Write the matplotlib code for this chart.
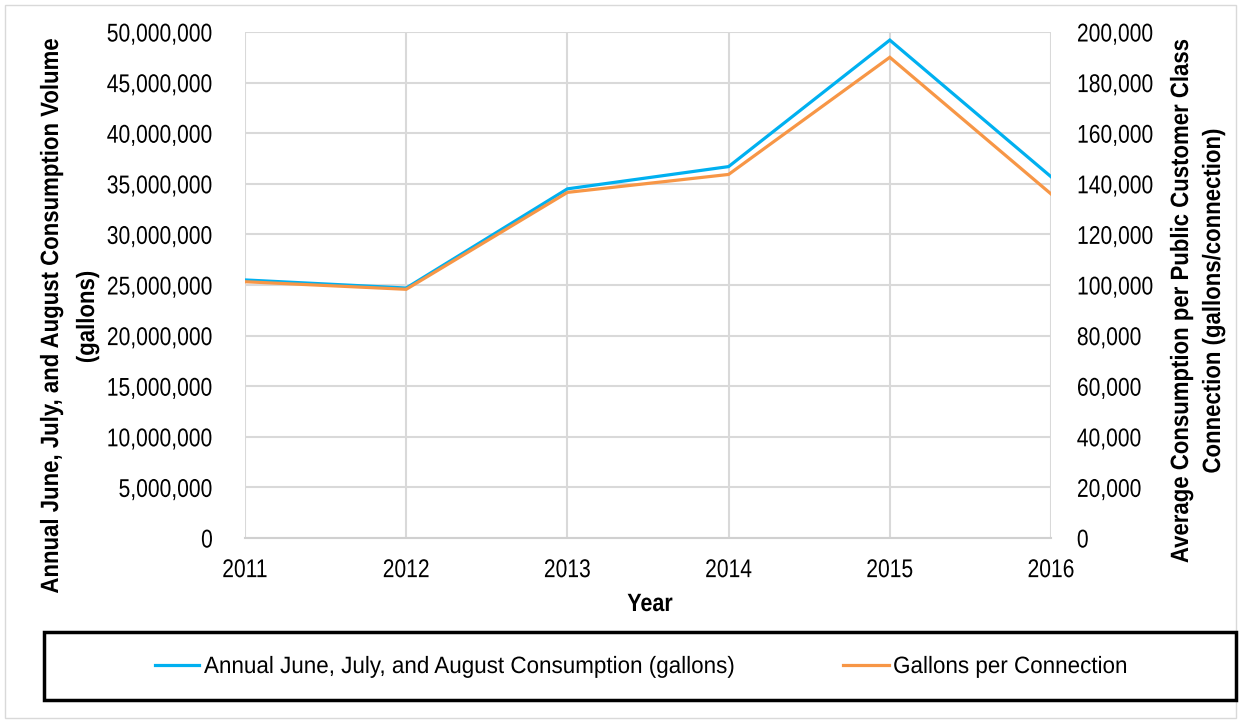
import matplotlib
matplotlib.use("Agg")
import matplotlib.pyplot as plt
from matplotlib.ticker import FuncFormatter, MultipleLocator
from matplotlib.patches import Rectangle
from matplotlib.lines import Line2D
from matplotlib.patheffects import AbstractPathEffect
from matplotlib.transforms import Affine2D

years = [2011, 2012, 2013, 2014, 2015, 2016]
consumption = [25_500_000, 24_700_000, 34_500_000, 36_700_000, 49_200_000, 35_700_000]
per_connection = [101_300, 98_300, 136_600, 143_700, 190_000, 136_000]
series_names = ['Annual June, July, and August Consumption (gallons)', 'Gallons per Connection']

plt.rcParams['font.family'] = ['Liberation Sans', 'DejaVu Sans']

BLUE = '#00B0F0'
ORANGE = '#F79646'
GRID = '#D9D9D9'
W, H = 1241, 723


class Squeeze(AbstractPathEffect):
    """Condense text along one direction (emulates a narrow font)."""
    def __init__(self, s, axis='x', anchor='center'):
        super().__init__()
        self.s, self.axis, self.anchor = s, axis, anchor

    def draw_path(self, renderer, gc, tpath, affine, rgbFace=None):
        ext = tpath.transformed(affine).get_extents()
        if self.axis == 'x':
            ref = {'left': ext.x0, 'right': ext.x1, 'center': (ext.x0 + ext.x1) / 2}[self.anchor]
            t = affine + Affine2D().translate(-ref, 0).scale(self.s, 1).translate(ref, 0)
        else:
            ref = (ext.y0 + ext.y1) / 2
            t = affine + Affine2D().translate(0, -ref).scale(1, self.s).translate(0, ref)
        renderer.draw_path(gc, tpath, t, rgbFace)


fig = plt.figure(figsize=(W / 100, H / 100), dpi=100)
ax = fig.add_axes([245 / W, 1 - 538 / H, (1051 - 245) / W, (538 - 32) / H])
ax2 = ax.twinx()

l1, = ax.plot(years, consumption, color=BLUE, lw=2.3, solid_joinstyle='miter', zorder=3)
l2, = ax2.plot(years, per_connection, color=ORANGE, lw=2.3, solid_joinstyle='miter', zorder=3)

ax.set_xlim(2011, 2016)
ax.set_ylim(0, 50_000_000)
ax2.set_ylim(0, 200_000)
ax.yaxis.set_major_locator(MultipleLocator(5_000_000))
ax2.yaxis.set_major_locator(MultipleLocator(20_000))
ax.set_xticks(years)
fmt = FuncFormatter(lambda v, p: f"{int(v):,}")
ax.yaxis.set_major_formatter(fmt)
ax2.yaxis.set_major_formatter(fmt)

ax.grid(True, color=GRID, lw=1.5)
ax.set_axisbelow(True)
for a in (ax, ax2):
    for s in a.spines.values():
        s.set_visible(False)
    a.tick_params(length=0)
ax.spines['bottom'].set_visible(True)
ax.spines['bottom'].set_color('#D0D0D0')
ax.spines['bottom'].set_linewidth(1.5)

TICK_FS = 18.5
ax.tick_params(axis='y', labelsize=TICK_FS, pad=23)
ax.tick_params(axis='x', labelsize=TICK_FS, pad=14.5)
ax2.tick_params(axis='y', labelsize=TICK_FS, pad=18.5)
for lbl in ax.get_yticklabels():
    lbl.set_path_effects([Squeeze(0.82, 'x', 'right')])
for lbl in ax.get_xticklabels():
    lbl.set_path_effects([Squeeze(0.82, 'x', 'center')])
for lbl in ax2.get_yticklabels():
    lbl.set_path_effects([Squeeze(0.82, 'x', 'left')])

# axis titles
fig.text(650 / W, 1 - 611 / H, 'Year', fontsize=18, fontweight='bold',
         ha='center', va='baseline', path_effects=[Squeeze(0.86, 'x', 'center')])
lab_fx = dict(fontsize=18, fontweight='bold', rotation=90, ha='center', va='center',
              path_effects=[Squeeze(0.887, 'y')])
fig.text(51 / W, 1 - 316 / H, 'Annual June, July, and August Consumption Volume', **lab_fx)
fig.text(87 / W, 1 - 317 / H, '(gallons)', **lab_fx)
fig.text(1181 / W, 1 - 301 / H, 'Average Consumption per Public Customer Class', **lab_fx)
fig.text(1213 / W, 1 - 301 / H, 'Connection (gallons/connection)', **lab_fx)

# legend box
fig.patches.append(Rectangle((44 / W, 1 - 700 / H), (1236 - 44) / W, (700 - 632) / H,
                             transform=fig.transFigure, fill=False, edgecolor='black',
                             lw=2.5, zorder=5))
# outer light border
fig.patches.append(Rectangle((5 / W, 1 - 718 / H), (1236 - 5) / W, (718 - 5) / H,
                             transform=fig.transFigure, fill=False, edgecolor='#D9D9D9',
                             lw=1.0, zorder=1))

# legend entries
leg_y = 1 - 665 / H
for (x0, x1, tx), line, name in zip([(155, 199, 204), (843, 889, 893)], [l1, l2], series_names):
    fig.add_artist(Line2D([x0 / W, x1 / W], [leg_y, leg_y], transform=fig.transFigure,
                          color=line.get_color(), lw=line.get_linewidth()))
    fig.text(tx / W, 1 - 673 / H, name, fontsize=17, ha='left', va='baseline',
             path_effects=[Squeeze(0.95, 'x', 'left')])

fig.savefig('out.png', dpi=100)
